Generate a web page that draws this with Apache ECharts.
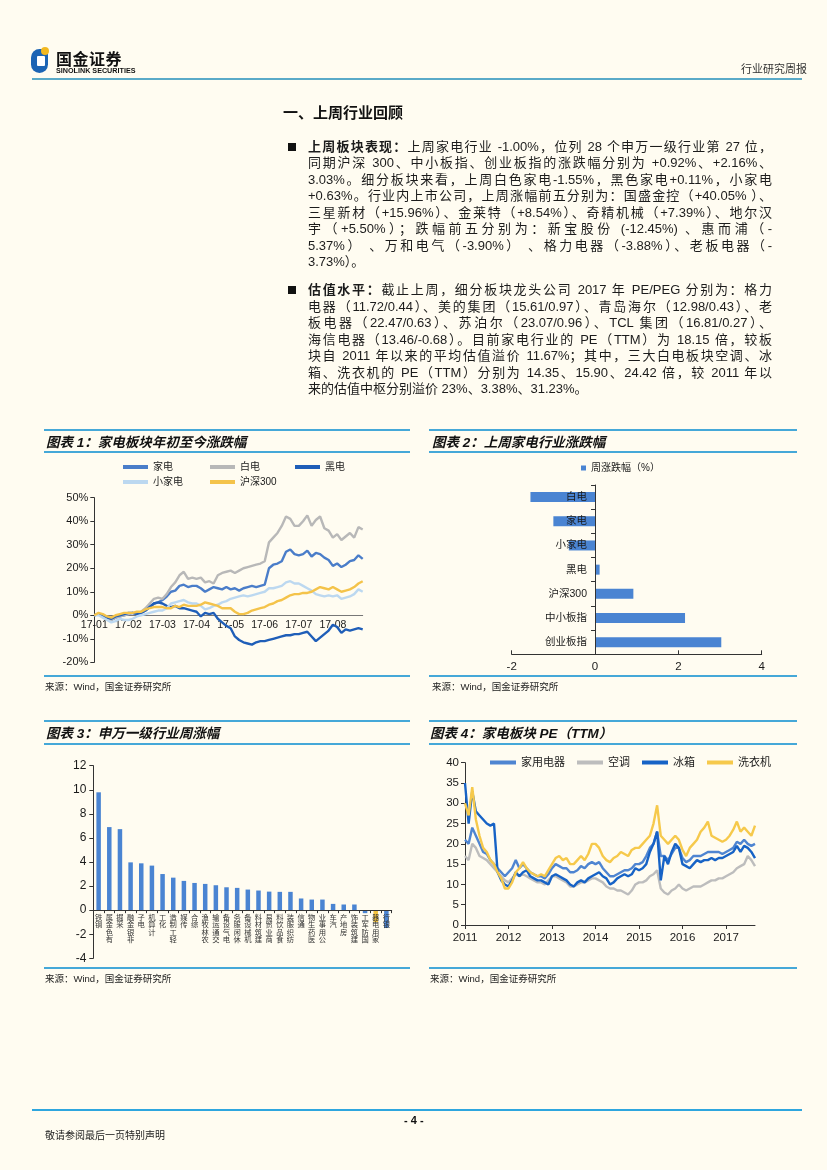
<!DOCTYPE html>
<html><head><meta charset="utf-8">
<script src="https://cdn.jsdelivr.net/npm/echarts/dist/echarts.min.js"></script>
<style>
html,body{margin:0;padding:0;background:#FFFCF1;}
#page{position:relative;width:827px;height:1170px;overflow:hidden;background:#FFFCF1;font-family:"Liberation Sans","Noto Sans CJK SC",sans-serif;color:#1c1c1c;}
#chart{position:absolute;left:0;top:0;width:827px;height:1170px;z-index:0;}
.a{position:absolute;z-index:1;white-space:nowrap;}
.hl{position:absolute;z-index:1;height:2px;background:#45A8D8;}
.para{position:absolute;left:308px;width:464px;font-size:13px;z-index:1;}
.ln{height:16.5px;line-height:16.5px;text-align:justify;text-align-last:justify;overflow:visible;}
.ln.last{text-align-last:left;}
.b{font-weight:bold;}
.bul{position:absolute;width:8px;height:8px;background:#111;left:288px;z-index:1;}
.ctitle{font-weight:bold;font-style:italic;font-size:13.5px;color:#111;}
.src{font-size:9.5px;color:#222;}
</style></head>
<body><div id="page">
<div id="chart"></div>

<!-- header -->
<div class="a" style="left:31px;top:49px;width:17px;height:24px;border-radius:9px 4px 9px 9px;background:#1C64B4;"></div>
<div class="a" style="left:37px;top:56px;width:8px;height:10px;background:#fff;border-radius:1px;"></div>
<div class="a" style="left:41px;top:47px;width:8px;height:8px;border-radius:50%;background:#F2B820;"></div>
<div class="a" style="left:56px;top:46px;font-size:16px;font-weight:bold;color:#111;letter-spacing:0.5px;">国金证券</div>
<div class="a" style="left:56px;top:66px;font-size:7.2px;font-weight:bold;color:#111;">SINOLINK SECURITIES</div>
<div class="a" style="left:741px;top:60px;font-size:11px;color:#333;">行业研究周报</div>
<div class="hl" style="left:32px;top:78px;width:770px;background:#5AAAC8;"></div>

<!-- section title -->
<div class="a" style="left:283px;top:101px;font-size:15px;font-weight:bold;color:#111;">一、上周行业回顾</div>

<div class="bul" style="top:143px;"></div>
<div class="para" style="top:138.5px;">
<div class="ln"><span class="b">上周板块表现：</span>上周家电行业 -1.00%，位列 28 个申万一级行业第 27 位，</div>
<div class="ln">同期沪深 300、中小板指、创业板指的涨跌幅分别为 +0.92%、+2.16%、</div>
<div class="ln">3.03%。细分板块来看，上周白色家电-1.55%，黑色家电+0.11%，小家电</div>
<div class="ln">+0.63%。行业内上市公司，上周涨幅前五分别为：国盛金控（+40.05% ）、</div>
<div class="ln">三星新材（+15.96%）、金莱特（+8.54%）、奇精机械（+7.39%）、地尔汉</div>
<div class="ln">宇（+5.50%）；跌幅前五分别为：新宝股份 (-12.45%) 、惠而浦（-</div>
<div class="ln">5.37%） 、万和电气（-3.90%） 、格力电器（-3.88%）、老板电器（-</div>
<div class="ln last">3.73%）。</div>
</div>

<div class="bul" style="top:286px;"></div>
<div class="para" style="top:282px;">
<div class="ln"><span class="b">估值水平：</span>截止上周，细分板块龙头公司 2017 年 PE/PEG 分别为：格力</div>
<div class="ln">电器（11.72/0.44）、美的集团（15.61/0.97）、青岛海尔（12.98/0.43）、老</div>
<div class="ln">板电器（22.47/0.63）、苏泊尔（23.07/0.96）、TCL 集团（16.81/0.27）、</div>
<div class="ln">海信电器（13.46/-0.68）。目前家电行业的 PE（TTM）为 18.15 倍，较板</div>
<div class="ln">块自 2011 年以来的平均估值溢价 11.67%；其中，三大白电板块空调、冰</div>
<div class="ln">箱、洗衣机的 PE（TTM）分别为 14.35、15.90、24.42 倍，较 2011 年以</div>
<div class="ln last">来的估值中枢分别溢价 23%、3.38%、31.23%。</div>
</div>

<!-- chart frames -->
<div class="hl" style="left:44px;top:429px;width:366px;"></div>
<div class="a ctitle" style="left:46px;top:431px;">图表 1：家电板块年初至今涨跌幅</div>
<div class="hl" style="left:44px;top:451px;width:366px;"></div>
<div class="hl" style="left:44px;top:675px;width:366px;"></div>
<div class="a src" style="left:45px;top:679px;">来源：Wind，国金证券研究所</div>

<div class="hl" style="left:429px;top:429px;width:368px;"></div>
<div class="a ctitle" style="left:432px;top:431px;">图表 2：上周家电行业涨跌幅</div>
<div class="hl" style="left:429px;top:451px;width:368px;"></div>
<div class="hl" style="left:429px;top:675px;width:368px;"></div>
<div class="a src" style="left:432px;top:679px;">来源：Wind，国金证券研究所</div>

<div class="hl" style="left:44px;top:720px;width:366px;"></div>
<div class="a ctitle" style="left:46px;top:722px;">图表 3：申万一级行业周涨幅</div>
<div class="hl" style="left:44px;top:743px;width:366px;"></div>
<div class="hl" style="left:44px;top:967px;width:366px;"></div>
<div class="a src" style="left:45px;top:971px;">来源：Wind，国金证券研究所</div>

<div class="hl" style="left:429px;top:720px;width:368px;"></div>
<div class="a ctitle" style="left:430px;top:722px;">图表 4：家电板块 PE（TTM）</div>
<div class="hl" style="left:429px;top:743px;width:368px;"></div>
<div class="hl" style="left:429px;top:967px;width:368px;"></div>
<div class="a src" style="left:430px;top:971px;">来源：Wind，国金证券研究所</div>

<!-- footer -->
<div class="hl" style="left:32px;top:1109px;width:770px;background:#2EA6DE;"></div>
<div class="a" style="left:404px;top:1114px;font-size:11px;font-weight:bold;color:#111;">- 4 -</div>
<div class="a" style="left:45px;top:1127px;font-size:10px;color:#222;">敬请参阅最后一页特别声明</div>
</div>

<script>
// ---------- Chart 1: 家电板块年初至今涨跌幅 (%) ----------
const c1Months = ['17-01','17-02','17-03','17-04','17-05','17-06','17-07','17-08'];
const c1Days = ['01','05','09','13','17','21','25','29'];
const c1Names = ['家电','白电','黑电','小家电','沪深300'];
const jiadian = [0,0.5,-0.5,-1.5,-2,-1,-0.5,0, 0.5,1,0.5,1,2,3.5,5,5.5, 6.5,8,10,10.5,12.5,13,12,12.5, 12.5,11.5,10,11,12,11.5,11,12, 11,11.5,10.5,11.5,12,12.5,12,12.5, 13,20,21.5,22,23,27,28,26, 25.5,26,27.5,25,26.5,26,24.5,23.5, 21,22,20.5,21.5,23,23.5,25.5,24];
const baidian = [0,0.5,-0.5,-1.5,-2,-1,-0.5,0, 0.5,1,0.5,1.5,3,5,7,7.5, 7,9,12,14,17,18.5,15.5,16, 15.5,16,14,14.5,13.5,17,18,18.5, 19,18,19,20,20.5,21,21.5,22, 23,31,33,35,38,42,41,38, 38,40,42.5,38,40.5,42,37,36, 33,34.5,32,33.5,35,33,37.5,36.5];
const heidian = [0,0.5,-0.5,-1,-1.5,-0.5,0,0.5, 1,1,0.5,1,2,3.5,5,5.5, 5,4,3.5,4,3,3,2.5,2, 1.5,-0.5,1,0.5,1,-1.5,-3,-4.5, -5.5,-9,-10.5,-11.5,-12,-12.5,-11.5,-11, -11,-10.5,-10,-9.5,-9,-8.5,-8.5,-8, -8,-7.5,-7,-9,-11,-9.5,-8,-6.5, -4,-5,-7.5,-6,-6.5,-6,-5.5,-6];
const xiaojiadian = [0,0,-1,-2,-3,-2.5,-1.5,-2, -2,-1.5,-0.5,0,0.5,1,1.5,2, 2,3,5,5.5,6,6.5,5.5,5, 5,4,2.5,3,4,4.5,5.5,6, 7,7.5,8,8.5,8,8.5,9,9.5, 10,11.5,11.5,12,12.5,14,14.5,13.5, 13.5,12.5,11.5,10.5,9,8.5,8,8.5, 8,8.5,7,7.5,8,9,11,10];
const hs300 = [0,1,0.5,-0.5,-1,0,0.5,1, 1,1,1.5,1.5,2.5,3,3.5,3.5, 3.5,3,3,4,3.5,4.5,4,4, 4,4.5,5.5,5,4.5,4,3,3, 3,1.5,0.5,0.5,1,2,2.5,3, 3.5,4.5,5,6,6.5,7.5,8.5,9, 9,9.5,9.5,10,11,12,11.5,11, 12,11,10,10.5,11,12,13.5,14.5];

// ---------- Chart 2: 上周家电行业涨跌幅 ----------
const c2Cats = ['白电','家电','小家电','黑电','沪深300','中小板指','创业板指'];
const c2Vals = [-1.55,-1.00,-0.63,0.11,0.92,2.16,3.03];

// ---------- Chart 3: 申万一级行业周涨幅 ----------
const c3Cats = ['钢铁','有色金属','采掘','非银金融','电子','计算机','化工','轻工制造','传媒','综合','农林牧渔','交通运输','电气设备','休闲服务','机械设备','建筑材料','商业贸易','食品饮料','纺织服装','通信','医药生物','公用事业','汽车','房地产','建筑装饰','国防军工','家用电器','银行'];
const c3Vals = [9.79,6.90,6.73,3.97,3.89,3.70,3.00,2.70,2.43,2.26,2.18,2.07,1.90,1.85,1.71,1.63,1.54,1.52,1.52,0.97,0.88,0.88,0.52,0.47,0.47,-0.25,-1.00,-1.48];

// ---------- Chart 4: 家电板块 PE(TTM), monthly 2011-01 .. 2017-09 ----------
const c4Years = ['2011','2012','2013','2014','2015','2016','2017'];
const c4Names = ['家用电器','空调','冰箱','洗衣机'];
const peJydq = [21,20,24,22,20,18,17.5,16,15,14,13,12, 13,14,16,14,15,14,13,12.5,12,12,11.5,12.5, 14,15,14.5,14,14,13,13,13.5,14.5,14,15,15.5, 15,15.5,14,13,12,12,12.5,13,13.5,13.5,14,15, 15,15.5,17,19,20,23,17,17,16,17.5,19,19, 16.5,15.5,16,17,17,17,17.5,18,18,18,18,17.5, 18,18.5,19,20.5,20,21,20,19.5,20];
const peKt = [17,16,20,19,17,16.5,16,15,14,13,12,11, 10.5,11.5,12.5,12,12.5,12,11.5,11,10.5,10.5,10,11, 12,12,11.5,11,10.5,9.5,9.5,10,10.5,10.5,11,11.5, 11.5,11,10.5,9.5,9,9,8.5,8.5,8,7.5,8.5,10, 10.5,10.5,11,12,12.5,13.5,9,8,7.5,8.5,9,10, 9,8.5,9,9.5,9.5,9.5,10,10.5,11,11,11.5,11.5, 12,12.5,13,14,14.5,15,17,16,14.5];
const peBx = [35,25,33,28,27,26,25,24.5,25,13,11,10, 9.5,11,13,12,13,13.5,12,11.5,11,11,10.5,10, 12,12.5,12,11.5,11,10,9.5,10.5,11,10.5,11.5,12, 12.5,13,12,11.5,10,10.5,11.5,12,12.5,12,12.5,14, 13.5,14,15,18,20,23,11,17,15,18,20,19, 15,14.5,14,15,16,15.5,16,16,16.5,16,16.5,16.5, 17,17.5,18,19.5,18,19.5,19,18,16.5];
const peXyj = [30,27,34,26,22,19,18,16,15,13,11.5,9, 9,10.5,13,14,15.5,14,13,12.5,12,12.5,12,13.5, 15,16.5,17,16,16.5,15,15,16,17,16,17.5,20, 20,19,17,16,15.5,16.5,17,18,17.5,17,18.5,19, 19,20,21,22,25,29.5,22,21,20,21,22,21, 18.5,17,19,20,21,23,24,25.5,22,21.5,21,20.5, 21,22,23.5,25.5,23,24,23,22,24.5];

// categories (axis positions)
const c1Dates = [];
c1Months.forEach(m => c1Days.forEach(d => c1Dates.push(m + '-' + d)));
const c4Dates = [];
c4Years.forEach(y => { for (let m = 1; m <= 12; m++) c4Dates.push(y + '-' + (m < 10 ? '0' + m : '' + m)); });
c4Dates.length = peJydq.length;

const FONT = '"Liberation Sans","Noto Sans CJK SC",sans-serif';
const TXT = '#1a1a1a';
const AX = '#333';
const c1Colors = ['#4A7DC9','#B8B8B8','#1F5EB8','#BCD8F0','#F4C34A'];
const c4Colors = ['#4F85D1','#BDBDBD','#1763C6','#F6C94B'];
const BAR = '#4A84D2';
const GOLD = '#F4C23E';

const chart = echarts.init(document.getElementById('chart'), null, {renderer:'canvas'});

const c1Series = [jiadian, baidian, heidian, xiaojiadian, hs300];
const c4Series = [peJydq, peKt, peBx, peXyj];

const c1LegendPos = [[118,457],[205,457],[290,457],[118,472],[205,472]];
const c4LegendPos = [[485,752],[572,752],[637,752],[702,752]];

const legends = [];
c1Names.forEach((n,i) => legends.push({data:[n], left:c1LegendPos[i][0], top:c1LegendPos[i][1], icon:'rect', itemWidth:25, itemHeight:4, textStyle:{fontSize:10, color:TXT, fontFamily:FONT}}));
c4Names.forEach((n,i) => legends.push({data:[n], left:c4LegendPos[i][0], top:c4LegendPos[i][1], icon:'rect', itemWidth:26, itemHeight:4, textStyle:{fontSize:11, color:TXT, fontFamily:FONT}}));
legends.push({data:['周涨跌幅（%）'], left:576, top:458, icon:'rect', itemWidth:5, itemHeight:5, textStyle:{fontSize:10, color:TXT, fontFamily:FONT}});

const series = [];
c1Names.forEach((n,i) => series.push({name:n, type:'line', xAxisIndex:0, yAxisIndex:0, data:c1Series[i], symbol:'none', color:c1Colors[i], lineStyle:{width:2.4, color:c1Colors[i]}, z: 2+i}));
series.push({name:'周涨跌幅（%）', type:'bar', xAxisIndex:1, yAxisIndex:1, data:c2Vals, barWidth:10, color:BAR, itemStyle:{color:BAR}, z:2});
series.push({name:'申万一级', type:'bar', xAxisIndex:2, yAxisIndex:2, data:c3Vals, barWidth:4.5, itemStyle:{color: p => p.name === '家用电器' ? GOLD : BAR}, z:2});
c4Names.forEach((n,i) => series.push({name:n, type:'line', xAxisIndex:3, yAxisIndex:3, data:c4Series[i], symbol:'none', color:c4Colors[i], lineStyle:{width:2.4, color:c4Colors[i]}, z: 2+i}));

const lbl = (size) => ({fontSize:size, color:TXT, fontFamily:FONT});

// grid geometry (page px) — axes that sit on the zero line are shifted there with offset
const G1 = {left:94.3, top:497.7, width:268.4, height:164.6};
const G2 = {left:511.7, top:485, width:250, height:169.3};
const G3 = {left:93.3, top:765.7, width:298.4, height:192.6};
const G4 = {left:465, top:762.7, width:290, height:162.3};
const off1 = -(G1.height * 20 / 70);   // 0% line above bottom (-20%..50%)
const off3 = -(G3.height * 4 / 16);    // 0 line above bottom (-4..12)
const off2 = -(G2.width * 2 / 6);      // 0 line right of left edge (-2..4)

const option = {
  animation:false,
  backgroundColor:'transparent',
  legend: legends,
  grid:[G1, G2, G3, G4],
  xAxis:[
    {gridIndex:0, type:'category', data:c1Dates, boundaryGap:false, position:'bottom', offset:off1,
     axisLine:{onZero:false, lineStyle:{color:'#777', width:1}}, axisTick:{show:false},
     axisLabel:Object.assign(lbl(10.5), {interval:(i,v)=>v.endsWith('-01'), formatter:v=>v.slice(0,5), margin:5}),
     splitLine:{show:false}},
    {gridIndex:1, type:'value', min:-2, max:4, interval:2,
     axisLine:{show:true, lineStyle:{color:AX}}, axisTick:{show:true, inside:true, length:4, lineStyle:{color:AX}},
     axisLabel:Object.assign(lbl(11.5), {margin:7}), splitLine:{show:false}},
    {gridIndex:2, type:'category', data:c3Cats, position:'bottom', offset:off3, z:10,
     axisLine:{onZero:false, lineStyle:{color:AX}}, axisTick:{show:true, length:3, lineStyle:{color:AX}},
     axisLabel:Object.assign(lbl(7.3), {interval:0, margin:4, lineHeight:7.4, formatter:v=>v.split('').reverse().join('\n'), color:'#333'}),
     splitLine:{show:false}},
    {gridIndex:3, type:'category', data:c4Dates, boundaryGap:false,
     axisLine:{show:true, onZero:false, lineStyle:{color:AX}},
     axisTick:{show:true, length:4, interval:(i,v)=>v.endsWith('-01'), lineStyle:{color:AX}},
     axisLabel:Object.assign(lbl(11.5), {interval:(i,v)=>v.endsWith('-01'), formatter:v=>v.slice(0,4), margin:7}),
     splitLine:{show:false}}
  ],
  yAxis:[
    {gridIndex:0, type:'value', min:-20, max:50, interval:10,
     axisLine:{show:true, lineStyle:{color:AX}}, axisTick:{show:true, length:4, lineStyle:{color:AX}},
     axisLabel:Object.assign(lbl(11), {formatter:'{value}%', margin:6}), splitLine:{show:false}},
    {gridIndex:1, type:'category', data:c2Cats, inverse:true, position:'left', offset:off2, z:10,
     axisLine:{show:true, onZero:false, lineStyle:{color:AX}}, axisTick:{show:true, length:4, lineStyle:{color:AX}},
     axisLabel:Object.assign(lbl(10.5), {margin:8}), splitLine:{show:false}},
    {gridIndex:2, type:'value', min:-4, max:12, interval:2,
     axisLine:{show:true, lineStyle:{color:AX}}, axisTick:{show:true, length:4, lineStyle:{color:AX}},
     axisLabel:Object.assign(lbl(12), {margin:7}), splitLine:{show:false}},
    {gridIndex:3, type:'value', min:0, max:40, interval:5,
     axisLine:{show:true, lineStyle:{color:AX}}, axisTick:{show:true, length:4, lineStyle:{color:AX}},
     axisLabel:Object.assign(lbl(11.5), {margin:6}), splitLine:{show:false}}
  ],
  series: series
};
chart.setOption(option);
</script>
</body></html>
